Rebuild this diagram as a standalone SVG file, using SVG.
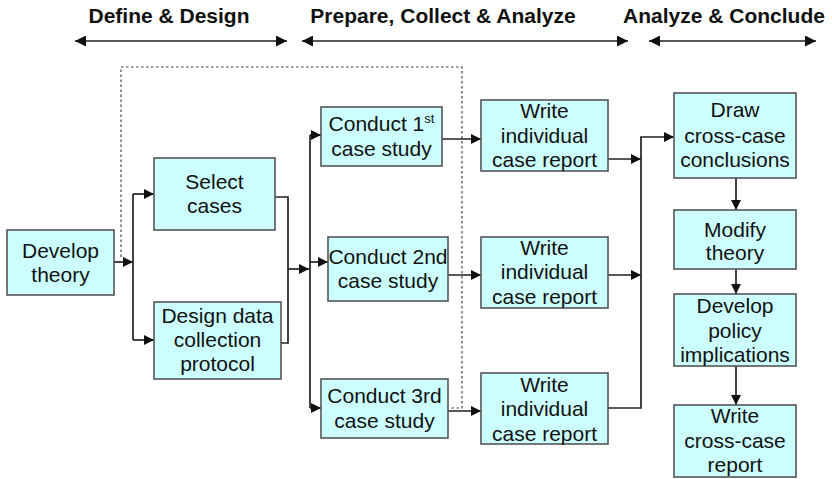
<svg xmlns="http://www.w3.org/2000/svg" width="832" height="479" viewBox="0 0 832 479">
<style>
.box{fill:#ccffff;stroke:#555;stroke-width:1.6}
.t{font-family:"Liberation Sans",Arial,sans-serif;font-size:21px;fill:#111;text-anchor:middle}
.h{font-family:"Liberation Sans",Arial,sans-serif;font-size:21px;font-weight:bold;fill:#111;text-anchor:middle}
.c{fill:none;stroke:#222;stroke-width:1.7}
.d{fill:none;stroke:#444;stroke-width:1.2;stroke-dasharray:2.5,2.5}
</style>
<defs>
<marker id="a" viewBox="0 0 10 10" refX="10" refY="5" markerWidth="11" markerHeight="10" markerUnits="userSpaceOnUse" orient="auto"><path d="M0,0L10,5L0,10z" fill="#111"/></marker>
<marker id="ah" viewBox="0 0 10 10" refX="10" refY="5" markerWidth="12" markerHeight="11" markerUnits="userSpaceOnUse" orient="auto-start-reverse"><path d="M0,0L10,5L0,10z" fill="#111"/></marker>
</defs>
<g id="headers">
<text class="h" x="169" y="23">Define &amp; Design</text>
<text class="h" x="443" y="23">Prepare, Collect &amp; Analyze</text>
<text class="h" x="724" y="23">Analyze &amp; Conclude</text>
<line class="c" x1="75" y1="41" x2="287" y2="41" stroke-width="2.4" marker-start="url(#ah)" marker-end="url(#ah)"/>
<line class="c" x1="302" y1="41" x2="628" y2="41" stroke-width="2.4" marker-start="url(#ah)" marker-end="url(#ah)"/>
<line class="c" x1="649" y1="41" x2="816" y2="41" stroke-width="2.4" marker-start="url(#ah)" marker-end="url(#ah)"/>
</g>
<g id="connectors">
<path class="d" d="M121,257V67H462V408H449"/>
<path class="c" d="M114,262H133" marker-end="url(#a)"/>
<path class="c" d="M133,194V340"/>
<path class="c" d="M133,194H154" marker-end="url(#a)"/>
<path class="c" d="M133,340H154" marker-end="url(#a)"/>
<path class="c" d="M275,197H288V343H281"/>
<path class="c" d="M288,269H309" marker-end="url(#a)"/>
<path class="c" d="M310,135V408"/>
<path class="c" d="M310,135H321" marker-end="url(#a)"/>
<path class="c" d="M310,262H328" marker-end="url(#a)"/>
<path class="c" d="M310,408H321" marker-end="url(#a)"/>
<path class="c" d="M442,139H481" marker-end="url(#a)"/>
<path class="c" d="M448,275H481" marker-end="url(#a)"/>
<path class="c" d="M448,411H481" marker-end="url(#a)"/>
<path class="c" d="M608,159H641" marker-end="url(#a)"/>
<path class="c" d="M608,275H641" marker-end="url(#a)"/>
<path class="c" d="M608,408H641V137H674" marker-end="url(#a)"/>
<path class="c" d="M736,178V210" marker-end="url(#a)"/>
<path class="c" d="M736,269V294" marker-end="url(#a)"/>
<path class="c" d="M736,366V405" marker-end="url(#a)"/>
</g>
<g id="develop-theory"><rect class="box" x="7" y="230" width="107" height="65"/><text class="t" x="60.5" y="258">Develop</text><text class="t" x="60.5" y="282">theory</text></g>
<g id="select-cases"><rect class="box" x="154" y="158" width="121" height="72"/><text class="t" x="214.5" y="189">Select</text><text class="t" x="214.5" y="213">cases</text></g>
<g id="design-protocol"><rect class="box" x="154" y="302" width="127" height="77"/><text class="t" x="217.5" y="323">Design data</text><text class="t" x="217.5" y="347">collection</text><text class="t" x="217.5" y="371">protocol</text></g>
<g id="conduct-1"><rect class="box" x="321" y="107" width="121" height="59"/><text class="t" x="381.5" y="131">Conduct 1<tspan font-size="13" dy="-8">st</tspan></text><text class="t" x="381.5" y="156">case study</text></g>
<g id="conduct-2"><rect class="box" x="328" y="237" width="120" height="64"/><text class="t" x="388" y="264">Conduct 2nd</text><text class="t" x="388" y="288">case study</text></g>
<g id="conduct-3"><rect class="box" x="321" y="379" width="127" height="59"/><text class="t" x="384.5" y="403">Conduct 3rd</text><text class="t" x="384.5" y="428">case study</text></g>
<g id="write-1"><rect class="box" x="481" y="100" width="127" height="71"/><text class="t" x="544.5" y="118">Write</text><text class="t" x="544.5" y="143">individual</text><text class="t" x="544.5" y="167">case report</text></g>
<g id="write-2"><rect class="box" x="481" y="237" width="127" height="71"/><text class="t" x="544.5" y="255">Write</text><text class="t" x="544.5" y="279">individual</text><text class="t" x="544.5" y="304">case report</text></g>
<g id="write-3"><rect class="box" x="481" y="373" width="127" height="71"/><text class="t" x="544.5" y="392">Write</text><text class="t" x="544.5" y="416">individual</text><text class="t" x="544.5" y="441">case report</text></g>
<g id="draw-conclusions"><rect class="box" x="674" y="93" width="122" height="85"/><text class="t" x="735" y="117">Draw</text><text class="t" x="735" y="143">cross-case</text><text class="t" x="735" y="167">conclusions</text></g>
<g id="modify-theory"><rect class="box" x="674" y="210" width="122" height="59"/><text class="t" x="735" y="237">Modify</text><text class="t" x="735" y="260">theory</text></g>
<g id="policy"><rect class="box" x="674" y="294" width="122" height="72"/><text class="t" x="735" y="313">Develop</text><text class="t" x="735" y="338">policy</text><text class="t" x="735" y="362">implications</text></g>
<g id="write-cross"><rect class="box" x="674" y="405" width="122" height="72"/><text class="t" x="735" y="423">Write</text><text class="t" x="735" y="448">cross-case</text><text class="t" x="735" y="472">report</text></g>
</svg>
